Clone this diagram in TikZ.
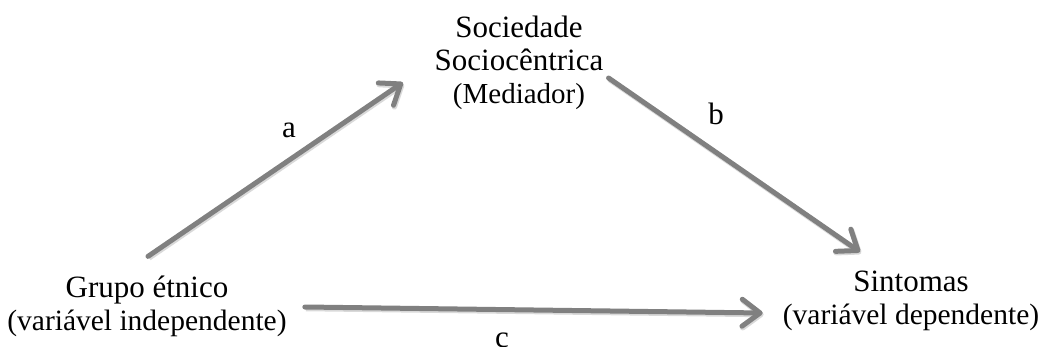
\documentclass[tikz,border=0pt]{standalone}
\usepackage{fontspec}
\setmainfont{Liberation Serif}
\usetikzlibrary{arrows.meta}

\begin{document}
\begin{tikzpicture}[x=1pt,y=-1pt,
  var/.style={align=center,inner sep=0pt,font=\fontsize{31}{33}\selectfont},
  lab/.style={inner sep=0pt,font=\fontsize{31}{33}\selectfont},
  link/.style={-{Straight Barb[length=18pt,width=27pt,round]},draw=gray,
    line width=5pt,line cap=round,
    preaction={draw=gray!30,line width=5.5pt,transform canvas={xshift=1pt,yshift=-1.5pt}}}]
\useasboundingbox (0,0) rectangle (1041,347);
% ---------- variables ----------
\node[var] (soc) at (519,62.5) {Sociedade\\Sociocêntrica\\{\fontsize{29}{33}\selectfont(Mediador)}};
\node[var] (grupo) at (147,306) {Grupo étnico\\{\fontsize{29.5}{33}\selectfont(variável independente)}};
\node[var] (sint) at (911,301) {Sintomas\\{\fontsize{29.5}{33}\selectfont(variável dependente)}};
% ---------- paths ----------
\draw[link] ([xshift=1pt,yshift=19pt]grupo.north) -- ([xshift=-31.6pt,yshift=27pt]soc.south west);
\draw[link] ([xshift=5pt,yshift=-15.5pt]soc.east) -- ([xshift=-51pt,yshift=19pt]sint.north);
\draw[link] ([xshift=18pt,yshift=-1pt]grupo.east) -- ([xshift=-20pt,yshift=-12pt]sint.west);
% ---------- labels ----------
\node[lab] (la) at (289,130) {a};
\node[lab] (lb) at (716,114) {b};
\node[lab] (lc) at (502,340) {c};
\end{tikzpicture}
\end{document}
